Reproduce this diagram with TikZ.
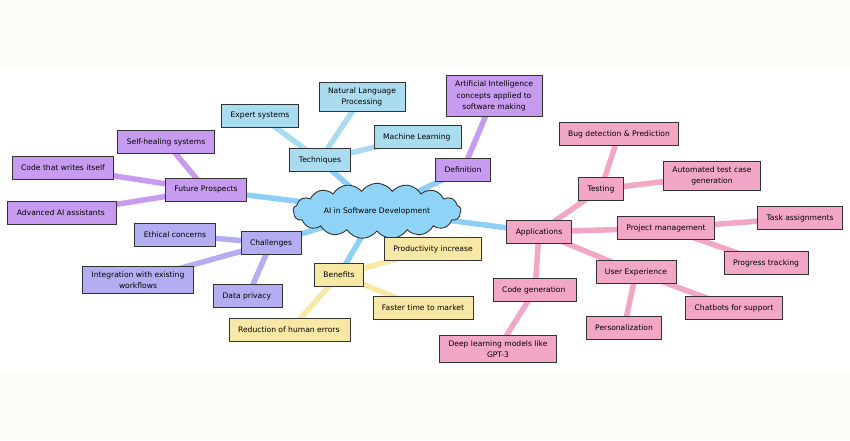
\documentclass[tikz,border=0pt]{standalone}
\usepackage{fontspec}
\setmainfont{DejaVu Sans}
\usetikzlibrary{shapes.symbols}
\definecolor{paper}{HTML}{FDFDF8}
\definecolor{cloudblue}{HTML}{8FD3F8}
\definecolor{linkblue}{HTML}{8DD0F5}
\definecolor{techblue}{HTML}{AADCEF}
\definecolor{purp}{HTML}{C79CF0}
\definecolor{lav}{HTML}{B3AEF1}
\definecolor{sand}{HTML}{F7E8A5}
\definecolor{rose}{HTML}{F3A7C6}
\pgfdeclarelayer{back}
\pgfdeclarelayer{links}
\pgfsetlayers{back,links,main}

\begin{document}
\begin{tikzpicture}[x=1pt, y=-1pt, font=\fontsize{7.6}{11.5}\selectfont,
		box/.style={draw=black!80, line width=0.9pt, minimum height=23pt, inner xsep=9pt, inner ysep=5pt, align=center},
		link/.style={line width=5.5pt}]
	\useasboundingbox (0,0) rectangle (850,440);
	\begin{pgfonlayer}{back}
		\fill[paper] (0,0) rectangle (850,68);
		\fill[paper] (0,372) rectangle (850,440);
	\end{pgfonlayer}

	% centre
	\node[cloud, cloud puffs=17, cloud puff arc=110, aspect=3.6, fill=cloudblue, draw=black!80, line width=0.9pt,
		inner sep=0pt, minimum width=168pt, minimum height=50pt] (ai) at (377,211) {AI in Software Development};

	% branches
	\foreach \n/\x/\y/\txt in {
			tech/320/160/Techniques,
			expert/260/116/Expert systems,
			nlp/362/97/{Natural Language\\Processing},
			ml/418/137/Machine Learning
		} {
			\node[box, fill=techblue] (\n) at (\x,\y) {\txt};
		}
	\foreach \n/\x/\y/\txt in {
			defn/463/170/Definition,
			aiconcept/494/96/{Artificial Intelligence\\concepts applied to\\software making},
			future/206/190/Future Prospects,
			heal/166/142/Self-healing systems,
			selfcode/63/168/Code that writes itself,
			assist/62/213/Advanced AI assistants
		} {
			\node[box, fill=purp] (\n) at (\x,\y) {\txt};
		}
	\foreach \n/\x/\y/\txt in {
			chall/271/243/Challenges,
			ethic/175/235/Ethical concerns,
			integ/138/280/{Integration with existing\\workflows},
			privacy/248/296/Data privacy
		} {
			\node[box, fill=lav] (\n) at (\x,\y) {\txt};
		}
	\foreach \n/\x/\y/\txt in {
			bene/339/275/Benefits,
			prod/433/249/Productivity increase,
			faster/423/308/Faster time to market,
			errors/290/330/Reduction of human errors
		} {
			\node[box, fill=sand] (\n) at (\x,\y) {\txt};
		}
	\node[box, fill=rose] (bug) at (619,134) {Bug detection \& Prediction};
	\foreach \n/\x/\y/\txt in {
			appl/539/232/Applications,
			testing/601/189/Testing,
			autotest/712/176/{Automated test case\\generation},
			pm/666/228/Project management,
			task/800/218/Task assignments,
			progress/766/263/Progress tracking,
			ux/636/272/User Experience,
			chat/734/308/Chatbots for support,
			person/624/328/Personalization,
			deep/498/349/{Deep learning models like\\GPT-3},
			codegen/535/290/Code generation
		} {
			\node[box, fill=rose] (\n) at (\x,\y) {\txt};
		}

	% connectors
	\begin{pgfonlayer}{links}
		\foreach \b in {tech,defn,future,chall,bene,appl}
			\draw[link, linkblue] (ai.center) -- (\b.center);
		\foreach \a/\b in {tech/expert, tech/nlp, tech/ml}
			\draw[link, techblue] (\a.center) -- (\b.center);
		\foreach \a/\b in {defn/aiconcept, future/heal, future/selfcode, future/assist}
			\draw[link, purp] (\a.center) -- (\b.center);
		\foreach \a/\b in {chall/ethic, chall/integ, chall/privacy}
			\draw[link, lav] (\a.center) -- (\b.center);
		\foreach \a/\b in {bene/prod, bene/faster, bene/errors}
			\draw[link, sand] (\a.center) -- (\b.center);
		\foreach \a/\b in {appl/testing, appl/pm, appl/ux, appl/codegen, testing/bug, testing/autotest,
				pm/task, pm/progress, ux/chat, ux/person, codegen/deep}
			\draw[link, rose] (\a.center) -- (\b.center);
	\end{pgfonlayer}
\end{tikzpicture}
\end{document}
